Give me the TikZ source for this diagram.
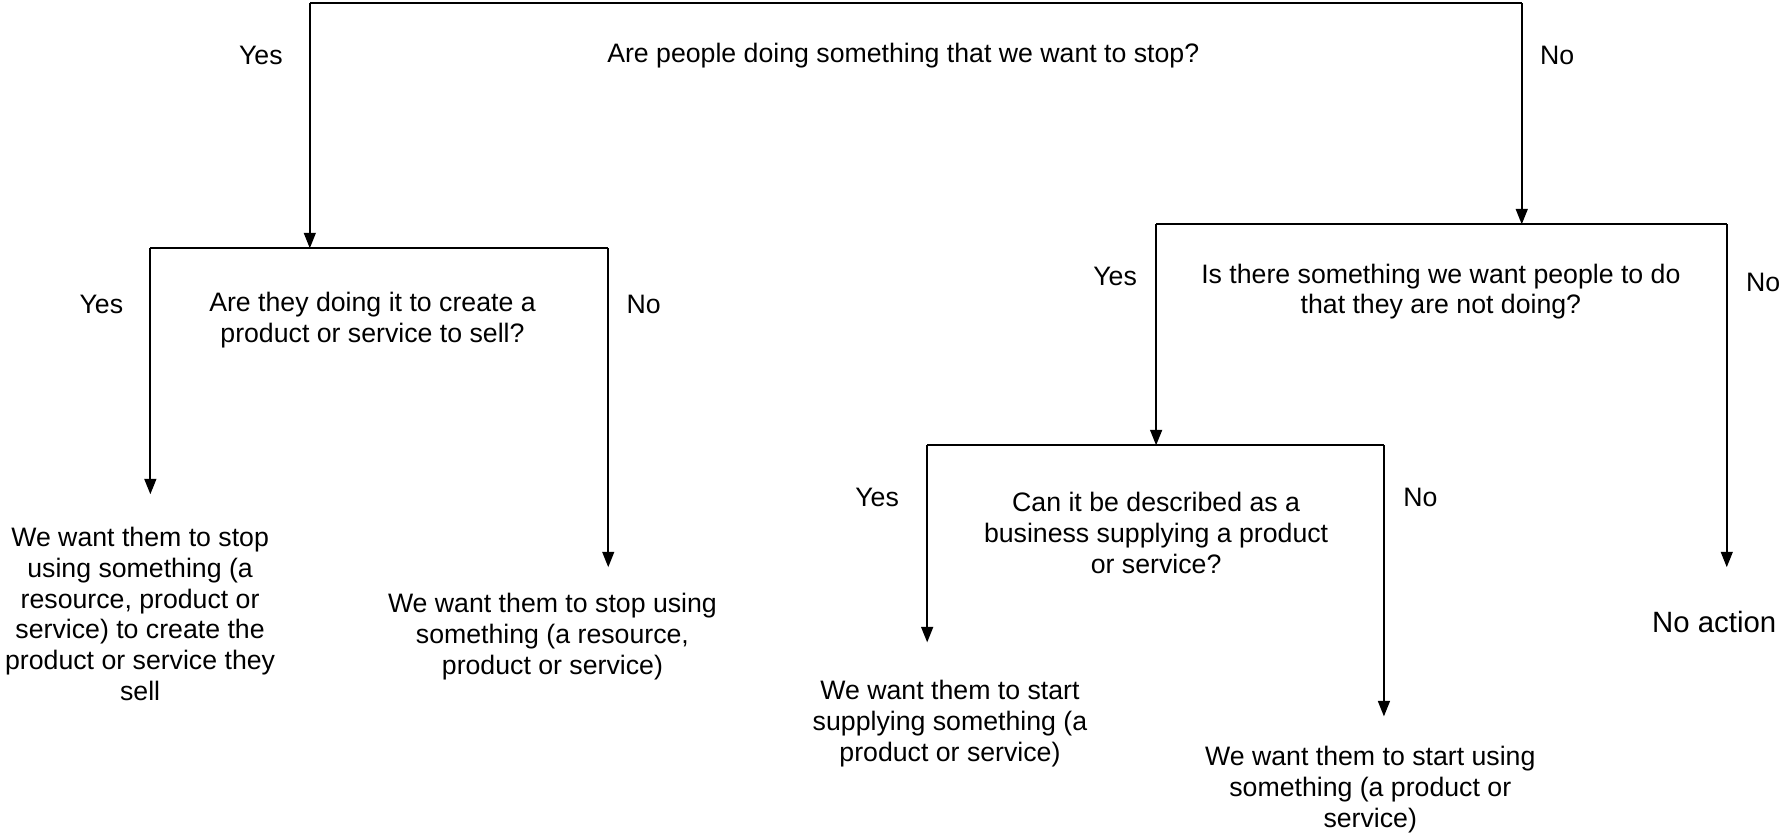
\documentclass[tikz,border=0pt]{standalone}
\usepackage{fontspec}
\setmainfont{Liberation Sans}
\usetikzlibrary{arrows.meta,positioning}

\begin{document}
\begin{tikzpicture}[x=0.015cm, y=-0.015cm, font=\fontsize{10}{11.6}\selectfont]
\tikzstyle{txt}=[align=center, inner sep=0pt]
\tikzstyle{wire}=[line width=0.8pt]
\tikzstyle{flow}=[line width=0.8pt, -{Triangle[length=5.8pt, width=4.4pt]}]
\useasboundingbox (0,0) rectangle (1568,733);

% bracket corners of each question
\coordinate (q1w) at (272,3);
\coordinate (q1e) at (1336,3);
\coordinate (q2w) at (132,218);
\coordinate (q2e) at (534,218);
\coordinate (q3w) at (1015,197);
\coordinate (q3e) at (1516,197);
\coordinate (q4w) at (814,391);
\coordinate (q4e) at (1215,391);
\coordinate (a1in) at (132,434);
\coordinate (a2in) at (534,498);
\coordinate (a3in) at (814,564);
\coordinate (a4in) at (1215,629);
\coordinate (a5in) at (1516,498);

\node[txt] (q1) at (793,49) {Are people doing something that we want to stop?};
\node[txt] (yes1) at (229,49) {Yes};
\node[txt] (no1) at (1367,49) {No};

\node[txt] (q2) at (327,281) {Are they doing it to create a\\product or service to sell?};
\node[txt] (yes2) at (89,267) {Yes};
\node[txt] (no2) at (565,267) {No};

\node[txt] (q3) at (1265,256) {Is there something we want people to do\\that they are not doing?};
\node[txt] (yes3) at (979,243) {Yes};
\node[txt] (no3) at (1548,248) {No};

\node[txt] (q4) at (1015,468) {Can it be described as a\\business supplying a product\\or service?};
\node[txt] (yes4) at (770,437) {Yes};
\node[txt] (no4) at (1247,437) {No};

\node[txt] (a1) at (123,539) {We want them to stop\\using something (a\\resource, product or\\service) to create the\\product or service they\\sell};
\node[txt] (a2) at (485,559) {We want them to stop using\\something (a resource,\\product or service)};
\node[txt] (a3) at (834,635) {We want them to start\\supplying something (a\\product or service)};
\node[txt] (a4) at (1203,693) {We want them to start using\\something (a product or\\service)};
\node[txt, font=\fontsize{11}{13}\selectfont] (a5) at (1505,546) {No action};

\draw[wire] (q1w) -- (q1e);
\draw[flow] (q1w) -- (q1w |- q2w);
\draw[flow] (q1e) -- (q1e |- q3w);
\draw[wire] (q2w) -- (q2e);
\draw[flow] (q2w) -- (a1in);
\draw[flow] (q2e) -- (a2in);
\draw[wire] (q3w) -- (q3e);
\draw[flow] (q3w) -- (q3w |- q4w);
\draw[flow] (q3e) -- (a5in);
\draw[wire] (q4w) -- (q4e);
\draw[flow] (q4w) -- (a3in);
\draw[flow] (q4e) -- (a4in);
\end{tikzpicture}
\end{document}
